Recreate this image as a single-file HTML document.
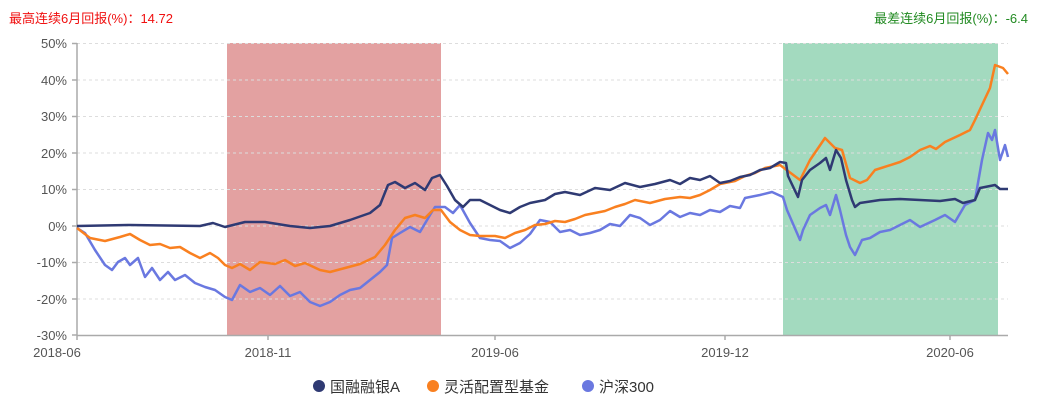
<!DOCTYPE html>
<html><head><meta charset="utf-8"><style>
body{margin:0;background:#fff;width:1046px;height:405px;overflow:hidden;font-family:"Liberation Sans","Noto Sans CJK SC",sans-serif}
</style></head><body>
<svg width="1046" height="405" xmlns="http://www.w3.org/2000/svg" font-family="Liberation Sans, Noto Sans CJK SC, sans-serif">
<text x="9" y="23" font-size="13" fill="#f01010">最高连续6月回报(%)：14.72</text>
<text x="1028" y="23" font-size="13" fill="#238b23" text-anchor="end">最差连续6月回报(%)：-6.4</text>
<rect x="227" y="43" width="214" height="292" fill="#d98181" opacity="0.75"/>
<rect x="783" y="43" width="215" height="292" fill="#7ccaa4" opacity="0.7"/>
<g stroke="#ddd" stroke-dasharray="3,3" stroke-width="1">
<line x1="77" x2="1008" y1="43.5" y2="43.5"/><line x1="77" x2="1008" y1="80" y2="80"/><line x1="77" x2="1008" y1="116.5" y2="116.5"/><line x1="77" x2="1008" y1="153" y2="153"/><line x1="77" x2="1008" y1="189.5" y2="189.5"/><line x1="77" x2="1008" y1="226" y2="226"/><line x1="77" x2="1008" y1="262.5" y2="262.5"/><line x1="77" x2="1008" y1="299" y2="299"/>
</g>
<g stroke="#aaa" stroke-width="1.5"><line x1="77" x2="77" y1="43" y2="335"/><line x1="77" x2="1008" y1="335.5" y2="335.5"/>
<line x1="72" x2="77" y1="43.5" y2="43.5"/><line x1="72" x2="77" y1="80" y2="80"/><line x1="72" x2="77" y1="116.5" y2="116.5"/><line x1="72" x2="77" y1="153" y2="153"/><line x1="72" x2="77" y1="189.5" y2="189.5"/><line x1="72" x2="77" y1="226" y2="226"/><line x1="72" x2="77" y1="262.5" y2="262.5"/><line x1="72" x2="77" y1="299" y2="299"/><line x1="72" x2="77" y1="335" y2="335"/>
<line x1="77" x2="77" y1="335" y2="340"/><line x1="268" x2="268" y1="335" y2="340"/><line x1="495" x2="495" y1="335" y2="340"/><line x1="725" x2="725" y1="335" y2="340"/><line x1="950" x2="950" y1="335" y2="340"/></g>
<g font-size="13" fill="#555" text-anchor="end">
<text x="67" y="48">50%</text><text x="67" y="85">40%</text><text x="67" y="121">30%</text><text x="67" y="158">20%</text><text x="67" y="194">10%</text><text x="67" y="231">0%</text><text x="67" y="267">-10%</text><text x="67" y="304">-20%</text><text x="67" y="340">-30%</text></g>
<g font-size="13" fill="#555" text-anchor="middle">
<text x="57" y="357">2018-06</text><text x="268" y="357">2018-11</text><text x="495" y="357">2019-06</text><text x="725" y="357">2019-12</text><text x="950" y="357">2020-06</text></g>
<g fill="none" stroke-width="2.5" stroke-linejoin="round">
<polyline stroke="#6a78e0" points="77,228 85,233 95,250 105,265 112,270 118,262 125,258 130,265 138,258 145,277 152,268 160,280 168,272 175,280 185,275 195,283 205,287 215,290 225,297 232,300 240,285 250,292 260,288 270,295 280,286 290,296 300,292 310,302 320,306 330,302 340,295 350,290 360,288 370,280 380,272 387,265 392,238 400,233 410,227 420,232 430,215 435,207 445,207 453,213 460,205 470,223 480,238 490,240 500,241 510,248 520,243 530,234 540,220 550,222 560,232 570,230 580,235 590,233 600,230 610,224 620,226 630,215 640,218 650,225 660,220 670,211 680,217 690,213 700,215 710,210 720,212 730,206 740,208 745,198 760,195 772,192 783,197 787,210 800,240 803,230 810,215 820,208 826,205 830,215 836,195 840,210 846,235 850,247 855,255 862,240 870,238 880,232 890,230 900,225 910,220 920,227 935,220 945,215 955,222 965,205 975,200 982,160 988,133 992,140 995,130 1000,160 1005,145 1008,157"/>
<polyline stroke="#f98020" points="77,228 90,238 105,241 120,237 130,234 140,240 150,245 160,244 170,248 180,247 190,253 200,258 210,253 218,258 225,265 232,268 240,264 250,270 260,262 275,264 285,260 295,266 305,263 320,270 330,272 345,268 360,264 375,257 385,245 395,230 405,218 415,215 425,218 433,210 441,210 450,222 460,230 470,235 480,236 495,236 505,238 515,233 525,230 535,225 545,224 555,221 565,222 575,219 585,215 595,213 605,211 615,207 625,204 635,200 650,203 665,199 680,197 690,198 700,195 710,190 720,184 735,181 745,176 755,173 765,168 780,165 800,180 810,160 825,138 835,148 842,150 850,178 860,183 867,180 875,170 900,162 910,157 920,150 930,146 936,149 945,142 960,135 970,130 975,120 982,105 990,88 995,65 1003,68 1008,74"/>
<polyline stroke="#2f3a73" points="77,226 130,225 200,226 213,223 225,227 245,222 265,222 290,226 310,228 330,226 350,220 370,213 380,205 388,185 395,182 405,188 415,183 425,190 432,178 440,175 447,186 455,200 463,207 470,200 480,200 490,205 500,210 510,213 520,207 530,203 545,200 555,194 565,192 580,195 595,188 610,190 625,183 640,187 655,184 670,180 680,184 690,178 700,180 710,176 720,183 730,181 740,177 750,175 760,170 770,168 780,162 786,163 788,176 798,197 802,180 810,170 820,163 826,158 830,170 836,150 841,158 846,180 852,200 855,207 860,203 880,200 900,199 920,200 940,201 955,199 963,203 975,200 980,188 990,186 995,185 1000,189 1008,189"/>
</g>
<g font-size="15" fill="#333">
<circle cx="319" cy="386" r="6" fill="#2f3a73"/><text x="330" y="392">国融融银A</text>
<circle cx="433" cy="386" r="6" fill="#f98020"/><text x="444" y="392">灵活配置型基金</text>
<circle cx="588" cy="386" r="6" fill="#6a78e0"/><text x="599" y="392">沪深300</text>
</g>
</svg>
</body></html>
